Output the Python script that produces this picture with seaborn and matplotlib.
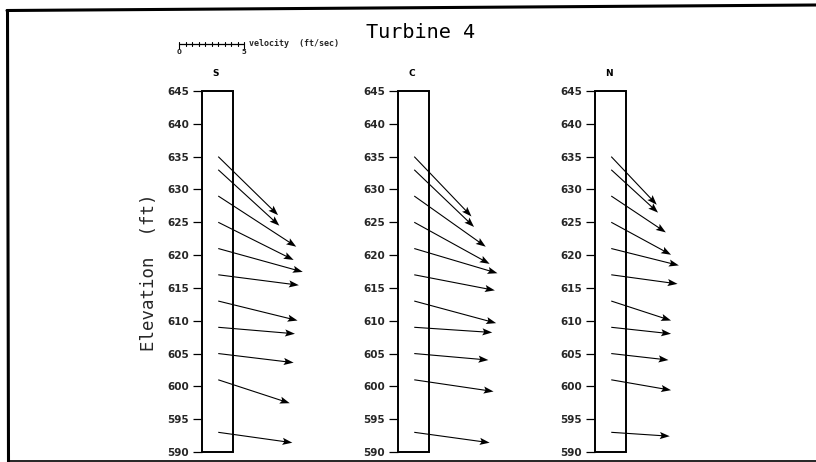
import numpy as np
import matplotlib
matplotlib.use("Agg")
import matplotlib.pyplot as plt
from matplotlib.patches import Rectangle
from matplotlib.lines import Line2D
import seaborn as sns

sns.set_theme(style="white")
plt.rcParams["font.family"] = ["DejaVu Sans"]

# ----------------------------------------------------------------------
# Data: velocity vectors (ft/sec) at each measured elevation
# ----------------------------------------------------------------------
elevations = [635, 633, 629, 625, 621, 617, 613, 609, 605, 601, 593]
panels = ["S", "C", "N"]

u_S = [4.6, 4.7, 6.0, 5.8, 6.5, 6.2, 6.1, 5.9, 5.8, 5.5, 5.7]
w_S = [-4.5, -4.3, -3.9, -2.9, -1.8, -0.8, -1.5, -0.5, -0.7, -1.8, -0.8]

u_C = [4.4, 4.6, 5.5, 5.8, 6.4, 6.2, 6.3, 6.0, 5.7, 6.1, 5.8]
w_C = [-4.6, -4.4, -3.9, -3.2, -1.9, -1.2, -1.7, -0.4, -0.5, -0.9, -0.8]

u_N = [3.5, 3.6, 4.2, 4.6, 5.2, 5.1, 4.6, 4.6, 4.4, 4.6, 4.5]
w_N = [-3.7, -3.3, -2.8, -2.5, -1.3, -0.7, -1.5, -0.5, -0.5, -0.8, -0.3]

y_ticks = list(range(590, 650, 5))
scale_len = 5  # ft/sec

velocities = {"S": (u_S, w_S), "C": (u_C, w_C), "N": (u_N, w_N)}

# ----------------------------------------------------------------------
# Layout (pixels of an 816x462 figure)
# ----------------------------------------------------------------------
W, H = 816, 462
fig = plt.figure(figsize=(W / 100, H / 100), dpi=100)
fig.patch.set_facecolor("white")

px_per_unit = 13.0          # screen pixels per ft/sec
y_top_px, y_bot_px = 91, 452  # 645 ft and 590 ft
ax_w_px = 130
panel_left_px = {"S": 202, "C": 398, "N": 595}
col_width = 2.35            # intake column width, in ft/sec units
x_start = 1.25              # where the vectors start

axes = {}
for name in panels:
    left = panel_left_px[name]
    ax = fig.add_axes([left / W, (H - y_bot_px) / H,
                       ax_w_px / W, (y_bot_px - y_top_px) / H])
    ax.set_xlim(0, ax_w_px / px_per_unit)
    ax.set_ylim(590, 645)
    ax.patch.set_alpha(0)
    for s in ax.spines.values():
        s.set_visible(False)
    ax.set_xticks([])
    ax.set_yticks(y_ticks)
    ax.tick_params(axis="y", left=True, length=6.5, width=0.9, pad=3,
                   direction="out", color="black", labelsize=7.5)
    for lab in ax.get_yticklabels():
        lab.set_fontweight("bold")
    ax.grid(False)

    # intake column outline
    ax.add_patch(Rectangle((0, 590), col_width, 55, fill=False,
                           edgecolor="black", lw=1.4, clip_on=False))

    u, w = velocities[name]
    ax.quiver(np.full(len(elevations), x_start), elevations, u, w,
              angles="uv", scale_units="x", scale=1, units="dots",
              width=1.1, headwidth=6.5, headlength=9, headaxislength=7.5,
              color="black", clip_on=False)

    ax.text(col_width / 2 - 0.1, 645 + (y_top_px - 74) / 6.56, name,
            ha="center", va="center", fontsize=6.5, fontweight="bold",
            color="black", clip_on=False)
    axes[name] = ax

# velocity scale bar above the S panel
ax = axes["S"]
bar_y = 645 + (y_top_px - 44) / 6.56
bar_x0 = (179 - panel_left_px["S"]) / px_per_unit
ax.plot([bar_x0, bar_x0 + scale_len], [bar_y, bar_y], color="black", lw=0.9,
        clip_on=False)
for t in np.arange(0, scale_len + 0.01, 0.5):
    tall = t in (0, scale_len)
    ax.plot([bar_x0 + t, bar_x0 + t], [bar_y + 0.25, bar_y - (0.8 if tall else 0.3)],
            color="black", lw=0.8, clip_on=False)
ax.text(bar_x0, bar_y - 0.7, "0", ha="center", va="top", fontsize=5,
        fontweight="bold", clip_on=False)
ax.text(bar_x0 + scale_len, bar_y - 0.7, "5", ha="center", va="top", fontsize=5,
        fontweight="bold", clip_on=False)
ax.text(bar_x0 + scale_len + 0.35, bar_y, "velocity  (ft/sec)", ha="left",
        va="center", fontsize=6, fontweight="bold", family="DejaVu Sans Mono",
        clip_on=False)

ax.set_ylabel("Elevation  (ft)", fontsize=12.5, family="DejaVu Sans Mono")
ax.yaxis.set_label_coords((158 - panel_left_px["S"]) / ax_w_px,
                          (y_bot_px - 272) / (y_bot_px - y_top_px))

fig.text(421 / W, (H - 33) / H, "Turbine 4", ha="center", va="center",
         fontsize=14.5, family="DejaVu Sans Mono", color="black")

# scanned page frame
fig.add_artist(Line2D([7 / W, 1.0], [(H - 10.5) / H, (H - 5) / H],
                      color="black", lw=2.2, transform=fig.transFigure))
fig.add_artist(Line2D([7.5 / W, 8.5 / W], [(H - 10.5) / H, 0],
                      color="black", lw=2.2, transform=fig.transFigure))
fig.add_artist(Line2D([8 / W, 1.0], [1.2 / H, 1.2 / H],
                      color="black", lw=1.2, transform=fig.transFigure))

fig.savefig("out.png", dpi=100, facecolor="white")
